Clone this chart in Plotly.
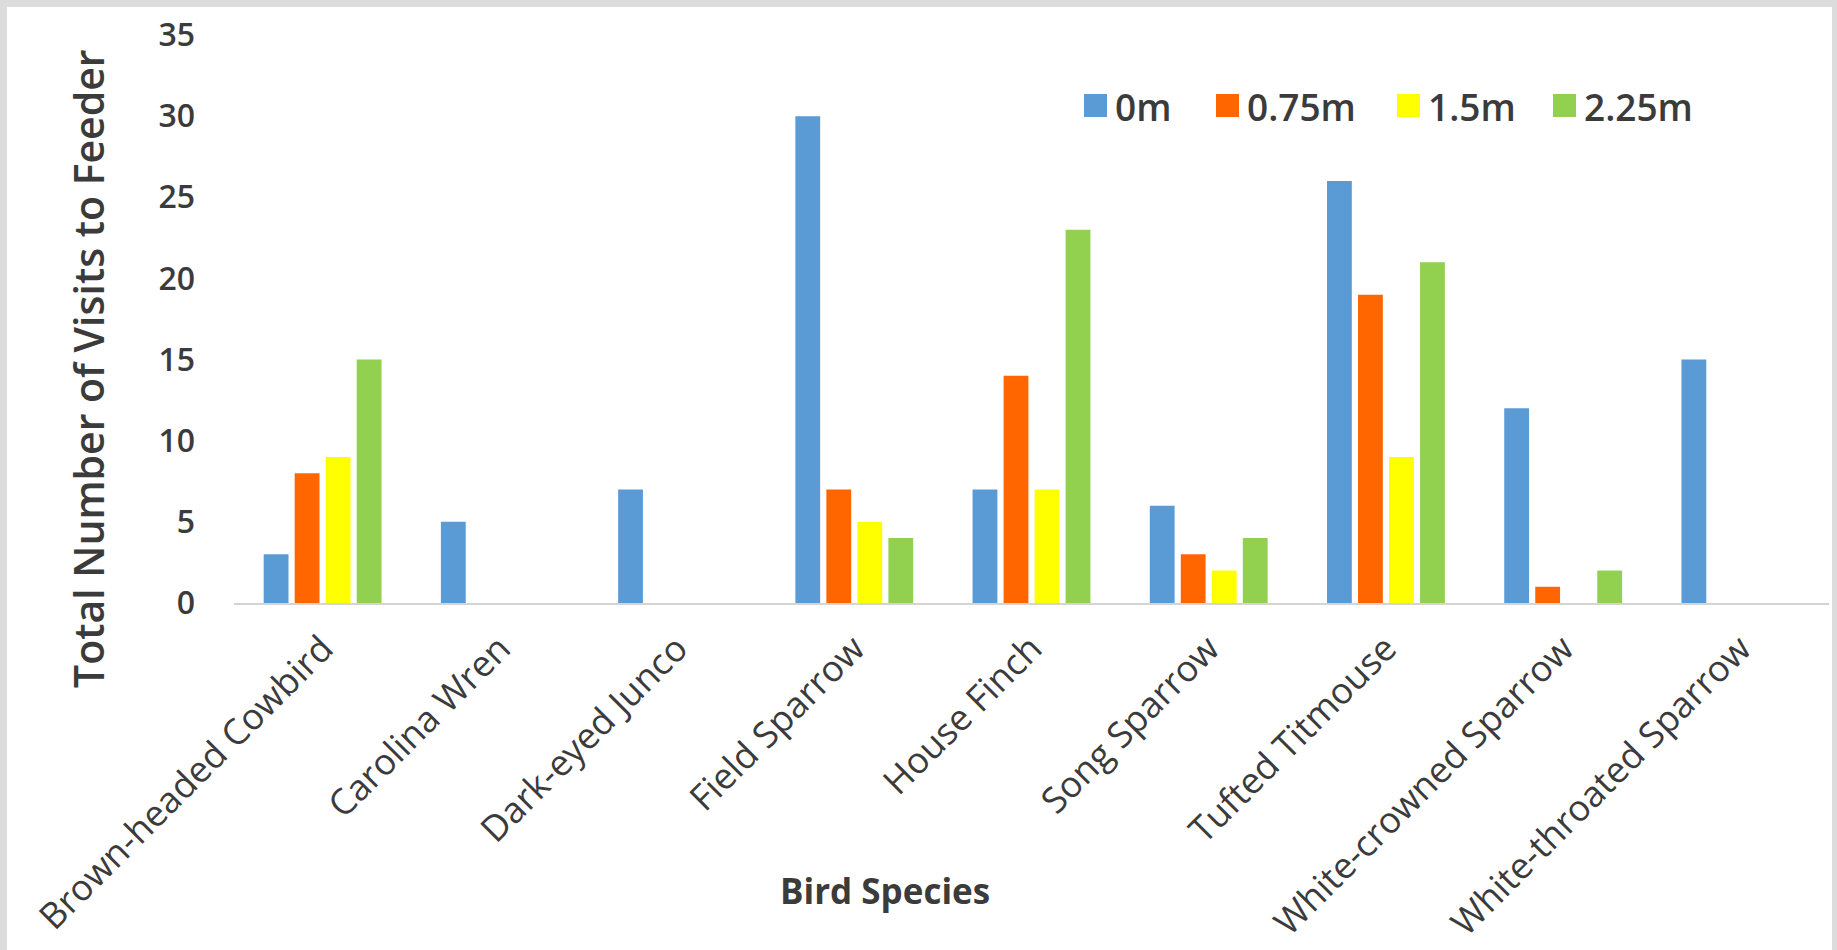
import plotly.graph_objects as go

# Bird species observed at the feeder
species = [
    "Brown-headed Cowbird", "Carolina Wren", "Dark-eyed Junco", "Field Sparrow",
    "House Finch", "Song Sparrow", "Tufted Titmouse", "White-crowned Sparrow",
    "White-throated Sparrow",
]

# Feeder distance groups
distances = ["0m", "0.75m", "1.5m", "2.25m"]

# Total visits per species for each distance
visits_0m = [3, 5, 7, 30, 7, 6, 26, 12, 15]
visits_075m = [8, 0, 0, 7, 14, 3, 19, 1, 0]
visits_15m = [9, 0, 0, 5, 7, 2, 9, 0, 0]
visits_225m = [15, 0, 0, 4, 23, 4, 21, 2, 0]

y_tick_values = [0, 5, 10, 15, 20, 25, 30, 35]

colors = ["#5B9BD5", "#FF6600", "#FFFF00", "#92D050"]
series = [visits_0m, visits_075m, visits_15m, visits_225m]

W, H = 1837, 950
PL, PR, PT, PB = 234, 1829, 35, 603  # plot area in pixels
TEXT = "#3b3b3b"
FONT = "Open Sans"


def px_x(x):
    return (x - PL) / (PR - PL)


def px_y(y):
    return (PB - y) / (PB - PT)


fig = go.Figure()
for name, vals, col in zip(distances, series, colors):
    fig.add_trace(go.Bar(
        x=species, y=vals, name=name, marker_color=col,
        marker_line_width=0, showlegend=False,
    ))

# Outer frame and white chart background
shapes = [
    dict(type="rect", xref="paper", yref="paper", layer="below",
         x0=px_x(7), x1=px_x(1832), y0=px_y(7), y1=px_y(960),
         fillcolor="white", line_width=0),
]
annotations = []

# Legend: colour swatches with labels
legend_swatch_x = [1084, 1216, 1397, 1553]
for name, col, sx in zip(distances, colors, legend_swatch_x):
    shapes.append(dict(type="rect", xref="paper", yref="paper",
                       x0=px_x(sx), x1=px_x(sx + 23), y0=px_y(117), y1=px_y(94),
                       fillcolor=col, line_width=0))
    annotations.append(dict(text=name, xref="paper", yref="paper",
                            x=px_x(sx + 29), y=px_y(106), xanchor="left",
                            yanchor="middle", showarrow=False,
                            font=dict(family=FONT, size=37, color=TEXT, weight=600)))

# Axis titles
annotations.append(dict(text="Total Number of Visits to Feeder", xref="paper", yref="paper",
                        x=px_x(88), y=px_y(369), xanchor="center", yanchor="middle",
                        textangle=-90, showarrow=False,
                        font=dict(family=FONT, size=41, color=TEXT, weight=600)))
annotations.append(dict(text="Bird Species", xref="paper", yref="paper",
                        x=px_x(885), y=px_y(890), xanchor="center", yanchor="middle",
                        showarrow=False,
                        font=dict(family=FONT, size=35, color=TEXT, weight=700)))

fig.update_layout(
    width=W, height=H,
    margin=dict(l=PL, r=W - PR, t=PT, b=H - PB, pad=0),
    paper_bgcolor="#dcdcdc",
    plot_bgcolor="rgba(0,0,0,0)",
    barmode="group", bargap=0.30, bargroupgap=0.2,
    shapes=shapes, annotations=annotations,
    showlegend=False,
)
fig.update_xaxes(
    showline=True, linecolor="#d4d4d4", linewidth=2,
    showgrid=False, ticks="", tickangle=-45, automargin=False,
    ticklabelstandoff=8,
    tickfont=dict(family=FONT, size=36, color=TEXT),
)
fig.update_yaxes(
    range=[0, 35], tickvals=y_tick_values, showgrid=False, zeroline=False,
    showline=False, ticks="", ticklabelstandoff=38, automargin=False,
    tickfont=dict(family=FONT, size=32, color=TEXT, weight=600),
)

fig.write_html("out.html")
